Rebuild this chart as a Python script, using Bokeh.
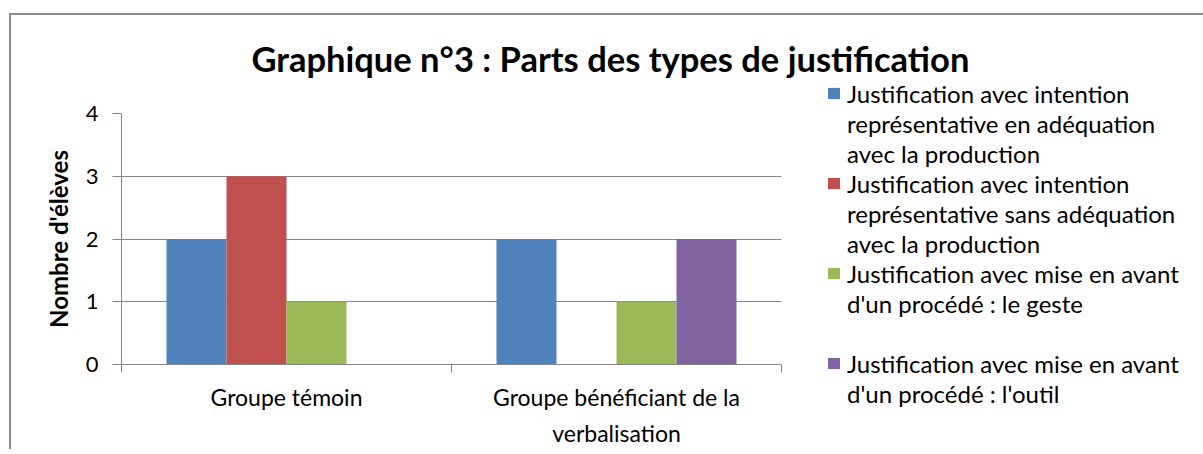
from bokeh.plotting import figure
from bokeh.models import Range1d, FixedTicker, Legend, LegendItem, ColumnDataSource
from bokeh.layouts import column
from bokeh.transform import dodge
from bokeh.embed import file_html
from bokeh.resources import INLINE

# ---- data ----
title_text = "Graphique n°3 : Parts des types de justification"
y_label = "Nombre d'élèves"
categories = ["Groupe témoin", "Groupe bénéficiant de la\nverbalisation"]
series_names = [
    "Justification avec intention\nreprésentative en adéquation\navec la production",
    "Justification avec intention\nreprésentative sans adéquation\navec la production",
    "Justification avec mise en avant\nd'un procédé : le geste\n ",
    "Justification avec mise en avant\nd'un procédé : l'outil",
]
intention_adequation = [2, 2]
intention_sans_adequation = [3, 0]
procede_geste = [1, 1]
procede_outil = [0, 2]
y_ticks = [0, 1, 2, 3, 4]
colors = ["#4F81BD", "#C0504D", "#9BBB59", "#8064A2"]

series = [intention_adequation, intention_sans_adequation, procede_geste, procede_outil]

FONT = "Lato"
GRAY = "#878787"

p = figure(frame_width=660, frame_height=251, output_backend="svg", toolbar_location=None,
           x_range=Range1d(0, len(categories)), y_range=Range1d(0, 4),
           min_border_left=110, min_border_right=0, min_border_top=114, min_border_bottom=82,
           title=title_text)
p.outline_line_color = None
p.background_fill_color = "white"
p.border_fill_alpha = 0
p.styles = {"margin-top": "-16px"}

p.title.text_font = FONT
p.title.text_font_size = "34.5px"
p.title.text_font_style = "bold"
p.title.text_color = "#000000"
p.title.align = "left"
p.title.offset = 130
p.title.standoff = 70

centers = [i + 0.5 for i in range(len(categories))]
bar_w = 60 / 330
data = {"x": centers}
for k, s in enumerate(series):
    data[f"s{k}"] = s
src = ColumnDataSource(data)

renderers = []
for k in range(len(series)):
    r = p.vbar(x=dodge("x", (k - 1.5) * bar_w, range=p.x_range), top=f"s{k}",
               width=bar_w, source=src, fill_color=colors[k], line_color=None)
    renderers.append(r)

# y axis
p.yaxis.ticker = FixedTicker(ticks=y_ticks)
p.yaxis.axis_line_color = GRAY
p.yaxis.major_tick_line_color = GRAY
p.yaxis.major_tick_out = 9
p.yaxis.major_tick_in = 0
p.yaxis.minor_tick_line_color = None
p.yaxis.major_label_text_font = FONT
p.yaxis.major_label_text_font_size = "22px"
p.yaxis.major_label_text_color = "#000000"
p.yaxis.major_label_standoff = 14
p.yaxis.axis_label = y_label
p.yaxis.axis_label_text_font = FONT
p.yaxis.axis_label_text_font_size = "24px"
p.yaxis.axis_label_text_font_style = "bold"
p.yaxis.axis_label_text_color = "#000000"
p.yaxis.axis_label_standoff = 10

# x axis
p.xaxis.ticker = FixedTicker(ticks=centers, minor_ticks=list(range(len(categories) + 1)))
p.xaxis.major_label_overrides = {c: lab for c, lab in zip(centers, categories)}
p.xaxis.axis_line_color = GRAY
p.xaxis.major_tick_line_color = None
p.xaxis.major_tick_out = 0
p.xaxis.major_tick_in = 0
p.xaxis.minor_tick_line_color = GRAY
p.xaxis.minor_tick_out = 8
p.xaxis.minor_tick_in = 0
p.xaxis.major_label_text_font = FONT
p.xaxis.major_label_text_font_size = "23px"
p.xaxis.major_label_text_color = "#000000"
p.xaxis.major_label_text_line_height = 1.3
p.xaxis.major_label_standoff = 10

p.xgrid.visible = False
p.ygrid.grid_line_color = GRAY
p.ygrid.grid_line_width = 1

# legend: one entry per text line, the swatch on the first line of each series
items = []
for name, r in zip(series_names, renderers):
    lines = name.split("\n")
    items.append(LegendItem(label=lines[0], renderers=[r]))
    for ln in lines[1:]:
        items.append(LegendItem(label=ln if ln.strip() else " ", renderers=[]))

legend = Legend(items=items, location=(45, -44))
legend.label_text_font = FONT
legend.label_text_font_size = "24px"
legend.label_text_color = "#000000"
legend.label_height = 30
legend.glyph_width = 15
legend.glyph_height = 14
legend.label_standoff = 6
legend.padding = 0
legend.margin = 0
legend.spacing = 0
legend.border_line_color = None
legend.background_fill_alpha = 0
p.add_layout(legend, "right")

layout = column(p, styles={"border-left": "2px solid #8c8c8c", "border-top": "2px solid #8c8c8c",
                           "margin-left": "9px", "margin-top": "13px"})

open("out.html", "w").write(file_html(layout, INLINE))
